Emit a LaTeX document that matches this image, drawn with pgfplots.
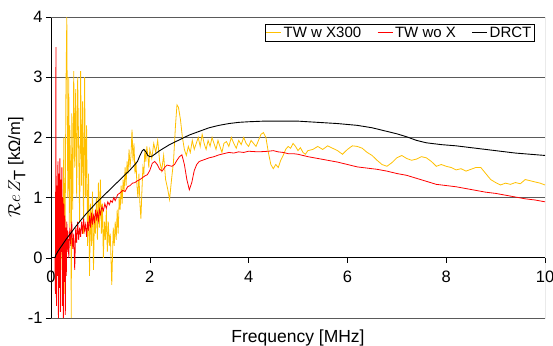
\documentclass[border=0pt]{standalone}
\usepackage{pgfplots}
\pgfplotsset{compat=1.18}
\usepackage{fontspec}
\setmainfont{Liberation Sans}
\definecolor{tyel}{RGB}{255,192,0}
\definecolor{tred}{RGB}{255,0,0}
\definecolor{gridc}{RGB}{90,90,90}
\begin{document}
\begin{tikzpicture}
\begin{axis}[
  width=494pt, height=301pt, scale only axis,
  xmin=0, xmax=10, ymin=-1, ymax=4,
  axis x line=middle, axis y line=left,
  x axis line style={-, black, line width=0.8pt},
  y axis line style={-, black, line width=0.8pt},
  hide obscured x ticks=false, hide obscured y ticks=false,
  xtick={0,2,4,6,8,10}, ytick={-1,0,1,2,3,4},
  tick align=outside, major tick length=5pt,
  tick style={black, line width=0.6pt},
  ymajorgrids, grid style={gridc, line width=0.7pt},
  /pgf/number format/assume math mode=true,
  ticklabel style={font=\fontsize{16.5}{19}\selectfont},
  xticklabel style={yshift=-5pt},
  xlabel={Frequency [MHz]},
  xlabel style={font=\fontsize{17.5}{20}\selectfont, at={(rel axis cs:0.5,0)}, anchor=north, yshift=-8pt},
  ylabel={$\mathcal{R}e\,Z_{\textrm{T}}$ [kΩ/m]},
  ylabel style={font=\fontsize{16.5}{19}\selectfont, at={(rel axis cs:0,0.5)}, anchor=south, yshift=22pt},
  legend columns=3,
  legend style={at={(rel axis cs:0.978,0.977)}, anchor=north east, draw=black, line width=0.6pt,
    font=\fontsize{15}{16}\selectfont, inner sep=0.5pt,
    /tikz/every even column/.append style={column sep=14pt}},
  legend image code/.code={\draw[#1, line width=0.8pt] (0pt,0pt) -- (15pt,0pt);},
  clip=true,
]
\coordinate (ll) at (rel axis cs:0,0);
\coordinate (ur) at (rel axis cs:1,1);
\draw[gridc, line width=0.7pt] (rel axis cs:0,0) -- (rel axis cs:1,0) -- (rel axis cs:1,1) -- (rel axis cs:0,1);

\addplot[tyel, line width=0.8pt] coordinates {
(0.18,0.3)(0.20,-0.2)(0.22,0.6)(0.24,0.1)(0.26,2.0)(0.28,-0.6)(0.30,2.6)(0.32,4.0)(0.34,1.0)(0.36,3.0)
(0.37,0.5)(0.38,2.2)(0.40,1.2)(0.41,-1.0)(0.42,2.4)(0.44,0.8)(0.46,3.1)(0.48,1.5)(0.50,2.8)(0.52,1.0)
(0.54,3.0)(0.56,1.8)(0.58,0.6)(0.60,3.1)(0.62,1.2)(0.64,2.6)(0.66,0.4)(0.68,3.0)(0.70,1.0)(0.72,2.2)
(0.74,0.2)(0.76,1.4)(0.78,-0.3)(0.80,0.9)(0.82,0.2)(0.84,1.1)(0.86,-0.2)(0.88,0.7)(0.90,0.4)(0.92,1.0)
(0.94,0.3)(0.96,1.25)(0.98,0.5)(1.00,1.3)(1.02,0.4)(1.04,0.9)(1.06,0.0)(1.08,0.6)(1.10,0.3)(1.12,0.8)
(1.14,0.1)(1.16,0.6)(1.18,0.2)(1.20,0.4)(1.23,-0.45)(1.26,0.5)(1.28,0.2)(1.30,0.6)(1.32,0.3)(1.34,0.8)
(1.36,0.4)(1.38,1.0)(1.40,0.8)(1.42,1.2)(1.44,0.9)(1.46,1.3)(1.48,1.1)(1.50,1.5)(1.52,1.2)(1.54,1.6)
(1.56,1.4)(1.58,1.8)(1.60,1.5)(1.62,1.7)(1.64,2.13)(1.66,1.6)(1.68,1.9)(1.70,1.4)(1.72,1.6)(1.74,1.2)
(1.76,1.0)(1.78,1.4)(1.80,0.9)(1.82,0.65)(1.84,1.1)(1.86,1.5)(1.88,1.4)(1.90,1.8)(1.92,1.6)(1.94,1.85)
(1.96,1.7)(1.98,1.5)(2.00,1.8)(2.04,1.65)(2.08,1.9)(2.12,1.75)(2.16,1.95)(2.20,1.6)(2.24,1.45)(2.28,1.7)
(2.32,1.3)(2.36,1.15)(2.40,0.97)(2.44,1.3)(2.48,1.6)(2.52,2.2)(2.55,2.54)(2.58,2.5)(2.62,2.3)(2.66,2.0)
(2.70,1.8)(2.74,1.7)(2.78,1.85)(2.82,1.75)(2.86,1.95)(2.90,1.8)(2.94,1.9)(2.98,2.0)(3.02,1.85)(3.06,2.05)
(3.10,1.9)(3.14,1.8)(3.18,1.95)(3.22,1.85)(3.26,2.0)(3.30,1.9)(3.34,1.8)(3.38,1.95)(3.42,1.85)(3.46,1.75)
(3.50,1.9)(3.55,1.93)(3.60,1.85)(3.65,2.0)(3.70,1.9)(3.75,1.82)(3.80,1.95)(3.85,1.88)(3.90,2.0)(3.95,1.9)
(4.00,1.85)(4.05,1.95)(4.10,1.9)(4.15,1.85)(4.20,1.95)(4.25,2.05)(4.30,2.08)(4.35,2.0)(4.40,1.75)(4.45,1.55)
(4.50,1.48)(4.55,1.55)(4.60,1.5)(4.65,1.62)(4.70,1.7)(4.75,1.8)(4.80,1.85)(4.85,1.82)(4.90,1.9)(4.95,1.85)
(5.00,1.78)(5.05,1.83)(5.10,1.75)(5.15,1.72)(5.20,1.78)(5.30,1.8)(5.40,1.85)(5.50,1.8)(5.60,1.86)(5.70,1.82)
(5.80,1.78)(5.90,1.72)(6.00,1.8)(6.10,1.86)(6.20,1.85)(6.30,1.82)(6.40,1.75)(6.50,1.7)(6.60,1.62)(6.70,1.55)
(6.80,1.52)(6.90,1.58)(7.00,1.66)(7.10,1.7)(7.20,1.65)(7.30,1.62)(7.40,1.64)(7.50,1.68)(7.60,1.66)(7.70,1.6)
(7.80,1.52)(7.90,1.55)(8.00,1.52)(8.10,1.5)(8.20,1.46)(8.30,1.48)(8.40,1.44)(8.50,1.47)(8.60,1.5)(8.70,1.5)
(8.80,1.4)(8.90,1.3)(9.00,1.25)(9.10,1.21)(9.20,1.24)(9.30,1.22)(9.40,1.25)(9.50,1.23)(9.60,1.3)(9.70,1.28)
(9.80,1.26)(9.90,1.24)(10.0,1.21)
};
\addlegendentry{TW w X300}

\addplot[tred, line width=0.8pt] coordinates {
(0.08,0.0)(0.09,-0.6)(0.10,3.5)(0.105,0.2)(0.11,-0.8)(0.12,1.2)(0.13,-0.3)(0.14,1.6)(0.15,-1.0)(0.16,1.4)
(0.17,-0.5)(0.18,1.65)(0.19,-0.9)(0.20,1.3)(0.21,0.1)(0.22,1.5)(0.23,-0.8)(0.24,1.0)(0.25,-1.0)(0.26,0.9)
(0.27,-0.4)(0.28,0.7)(0.29,-0.95)(0.30,0.5)(0.31,-0.3)(0.32,0.6)(0.33,0.1)(0.34,0.45)(0.36,0.0)(0.38,0.5)
(0.40,0.2)(0.42,0.6)(0.44,0.15)(0.46,0.4)(0.48,-0.2)(0.50,0.5)(0.52,0.25)(0.54,0.6)(0.56,0.3)(0.58,0.5)
(0.60,0.35)(0.62,0.6)(0.64,0.4)(0.66,0.65)(0.68,0.45)(0.70,0.55)(0.72,0.35)(0.74,0.6)(0.76,0.45)(0.78,0.7)
(0.80,0.5)(0.82,0.75)(0.84,0.55)(0.86,0.7)(0.88,0.6)(0.90,0.8)(0.92,0.65)(0.94,0.75)(0.96,0.62)(0.98,0.8)
(1.00,0.72)(1.03,0.85)(1.06,0.78)(1.09,0.9)(1.12,0.82)(1.15,0.93)(1.18,0.88)(1.21,0.95)(1.24,0.92)(1.27,1.0)
(1.30,0.95)(1.35,1.05)(1.40,1.08)(1.45,1.12)(1.50,1.10)(1.55,1.18)(1.60,1.2)(1.65,1.24)(1.70,1.25)(1.75,1.28)
(1.80,1.3)(1.85,1.33)(1.90,1.36)(1.95,1.38)(2.00,1.45)(2.05,1.57)(2.10,1.60)(2.15,1.55)(2.20,1.47)(2.25,1.44)
(2.30,1.50)(2.35,1.54)(2.40,1.53)(2.45,1.52)(2.50,1.55)(2.55,1.62)(2.60,1.68)(2.65,1.71)(2.70,1.55)(2.75,1.3)
(2.80,1.13)(2.85,1.25)(2.90,1.45)(2.95,1.55)(3.00,1.6)(3.10,1.63)(3.20,1.66)(3.30,1.68)(3.40,1.71)(3.50,1.73)
(3.60,1.75)(3.70,1.74)(3.80,1.76)(3.90,1.75)(4.00,1.77)(4.20,1.76)(4.40,1.77)(4.50,1.78)(4.60,1.76)(4.70,1.75)
(4.80,1.73)(4.90,1.73)(5.00,1.72)(5.10,1.70)(5.20,1.68)(5.40,1.65)(5.60,1.62)(5.80,1.59)(6.00,1.55)(6.20,1.51)
(6.40,1.49)(6.60,1.47)(6.80,1.44)(7.00,1.40)(7.20,1.37)(7.40,1.32)(7.60,1.27)(7.80,1.22)(8.00,1.20)(8.20,1.18)
(8.40,1.15)(8.60,1.12)(8.80,1.09)(9.00,1.07)(9.20,1.04)(9.40,1.01)(9.60,0.98)(9.80,0.96)(10.0,0.93)
};
\addlegendentry{TW wo X}

\addplot[black, line width=0.9pt] coordinates {
(0.08,0.0)(0.1,0.05)(0.15,0.12)(0.2,0.18)(0.3,0.30)(0.4,0.41)(0.5,0.52)(0.6,0.62)(0.7,0.72)(0.8,0.81)
(0.9,0.90)(1.0,0.98)(1.1,1.06)(1.2,1.14)(1.3,1.22)(1.4,1.30)(1.5,1.38)(1.6,1.46)(1.7,1.55)(1.75,1.60)
(1.8,1.70)(1.85,1.78)(1.88,1.80)(1.92,1.76)(1.96,1.70)(2.0,1.68)(2.05,1.69)(2.1,1.72)(2.2,1.78)(2.4,1.88)
(2.6,1.96)(2.8,2.04)(3.0,2.10)(3.2,2.16)(3.4,2.20)(3.6,2.23)(3.8,2.25)(4.0,2.26)(4.3,2.27)(4.6,2.27)
(5.0,2.27)(5.4,2.25)(5.8,2.23)(6.2,2.20)(6.5,2.16)(6.8,2.10)(7.0,2.06)(7.2,2.01)(7.4,1.95)(7.6,1.91)
(7.9,1.88)(8.2,1.86)(8.5,1.83)(8.8,1.80)(9.1,1.77)(9.4,1.74)(9.7,1.72)(10.0,1.70)
};
\addlegendentry{DRCT}
\end{axis}
\pgfresetboundingbox
\path ([shift={(-51pt,-27pt)}]ll) rectangle ([shift={(8pt,17pt)}]ur);
\end{tikzpicture}
\end{document}
